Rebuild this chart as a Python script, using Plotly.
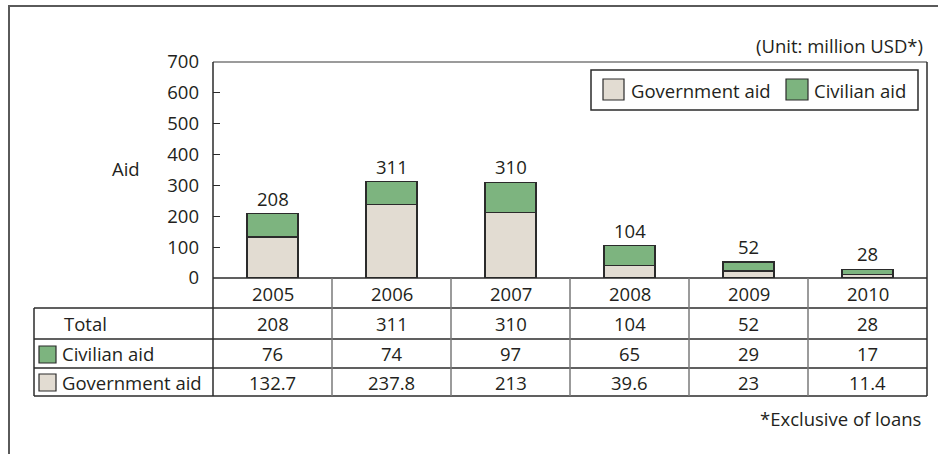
import plotly.graph_objects as go

# ---- data ----
years = ["2005", "2006", "2007", "2008", "2009", "2010"]
government_aid = [132.7, 237.8, 213, 39.6, 23, 11.4]
civilian_aid = [76, 74, 97, 65, 29, 17]
totals = [208, 311, 310, 104, 52, 28]
gov_labels = ["132.7", "237.8", "213", "39.6", "23", "11.4"]
civ_labels = ["76", "74", "97", "65", "29", "17"]
y_ticks = [0, 100, 200, 300, 400, 500, 600, 700]

# ---- style ----
W, H = 938, 454
L, R, T, B = 213, 927, 62, 278
GOV = "#e2dcd2"
CIV = "#7db47f"
DARK = "#2b2b2b"
GRAY = "#7a7a7a"
FONT = "Open Sans"
FS = 18.5


def px(x):
    return (x - L) / (R - L)


def py(y):
    return (B - y) / (B - T)


fig = go.Figure()
fig.add_trace(go.Bar(x=years, y=government_aid, name="Government aid",
                     marker=dict(color=GOV, line=dict(color=DARK, width=1.2)),
                     width=0.43, showlegend=False))
fig.add_trace(go.Bar(x=years, y=civilian_aid, name="Civilian aid",
                     marker=dict(color=CIV, line=dict(color=DARK, width=1.2)),
                     width=0.43, showlegend=False))

shapes = []
ann = []


def hline(x0, x1, y, color=DARK, w=1.5):
    shapes.append(dict(type="line", xref="paper", yref="paper", x0=px(x0), x1=px(x1),
                       y0=py(y), y1=py(y), line=dict(color=color, width=w)))


def vline(x, y0, y1, color=DARK, w=1.5):
    shapes.append(dict(type="line", xref="paper", yref="paper", x0=px(x), x1=px(x),
                       y0=py(y0), y1=py(y1), line=dict(color=color, width=w)))


def rect(x0, y0, x1, y1, fill, color=DARK, w=1.2):
    shapes.append(dict(type="rect", xref="paper", yref="paper", x0=px(x0), x1=px(x1),
                       y0=py(y0), y1=py(y1), fillcolor=fill, line=dict(color=color, width=w)))


# outer frame
rect(9, 6, 960, 480, "rgba(0,0,0,0)", color="#5a5a5a", w=2)
# plot frame
hline(L, R, T, color=GRAY)
vline(R, T, 396, color=DARK)
vline(L, T, 396, color=DARK)
# table lines
hline(L, R, B)
for yy in [308, 339, 368, 396]:
    hline(34, R, yy)
vline(34, 308, 396)
for i in range(len(years) - 1):
    shapes.append(dict(type="line", xref="x", yref="paper", x0=i + 0.5, x1=i + 0.5,
                       y0=py(B), y1=py(396), line=dict(color=GRAY, width=1.5)))

# legend (drawn)
rect(591, 70, 918, 110, "white", w=1.5)
rect(603, 79, 624, 100, GOV)
rect(786, 79, 808, 100, CIV)
ann.append(dict(text="Government aid", xref="paper", yref="paper", x=px(629), y=py(90),
                xanchor="left", yanchor="middle", showarrow=False))
ann.append(dict(text="Civilian aid", xref="paper", yref="paper", x=px(812), y=py(90),
                xanchor="left", yanchor="middle", showarrow=False))

# table row labels
ann.append(dict(text="Total", xref="paper", yref="paper", x=px(62), y=py(323.5),
                xanchor="left", yanchor="middle", showarrow=False))
rect(39, 346, 56, 363, CIV)
ann.append(dict(text="Civilian aid", xref="paper", yref="paper", x=px(60), y=py(353.5),
                xanchor="left", yanchor="middle", showarrow=False))
rect(39, 374, 56, 391, GOV)
ann.append(dict(text="Government aid", xref="paper", yref="paper", x=px(60), y=py(382),
                xanchor="left", yanchor="middle", showarrow=False))

# table values
for i, yr in enumerate(years):
    ann.append(dict(text=yr, xref="x", yref="paper", x=i, y=py(293),
                    xanchor="center", yanchor="middle", showarrow=False))
    ann.append(dict(text=str(totals[i]), xref="x", yref="paper", x=i, y=py(323.5),
                    xanchor="center", yanchor="middle", showarrow=False))
    ann.append(dict(text=civ_labels[i], xref="x", yref="paper", x=i, y=py(353.5),
                    xanchor="center", yanchor="middle", showarrow=False))
    ann.append(dict(text=gov_labels[i], xref="x", yref="paper", x=i, y=py(382),
                    xanchor="center", yanchor="middle", showarrow=False))
    # totals above bars
    ann.append(dict(text=str(totals[i]), xref="x", yref="y", x=i, y=totals[i],
                    xanchor="center", yanchor="bottom", yshift=1, showarrow=False))

# other texts
ann.append(dict(text="Aid", xref="paper", yref="paper", x=px(126), y=py(168),
                xanchor="center", yanchor="middle", showarrow=False))
ann.append(dict(text="(Unit: million USD*)", xref="paper", yref="paper", x=px(925), y=py(46),
                xanchor="right", yanchor="middle", showarrow=False))
ann.append(dict(text="*Exclusive of loans", xref="paper", yref="paper", x=px(923), y=py(418),
                xanchor="right", yanchor="middle", showarrow=False))

fig.update_layout(
    width=W, height=H,
    margin=dict(l=L, r=W - R, t=T, b=H - B),
    paper_bgcolor="white", plot_bgcolor="white",
    barmode="stack",
    font=dict(family=FONT, size=FS, color="#231f20"),
    showlegend=False,
    shapes=shapes,
    annotations=ann,
    xaxis=dict(type="category", range=[-0.5, 5.5], showticklabels=False, showgrid=False,
               zeroline=False, showline=False, ticks=""),
    yaxis=dict(range=[0, 700], tickvals=y_ticks, showgrid=False, zeroline=False,
               showline=False, ticks="inside", ticklen=7, tickcolor=DARK, tickwidth=1.2,
               ticklabelstandoff=13, tickfont=dict(size=FS)),
)

fig.write_html("out.html")
